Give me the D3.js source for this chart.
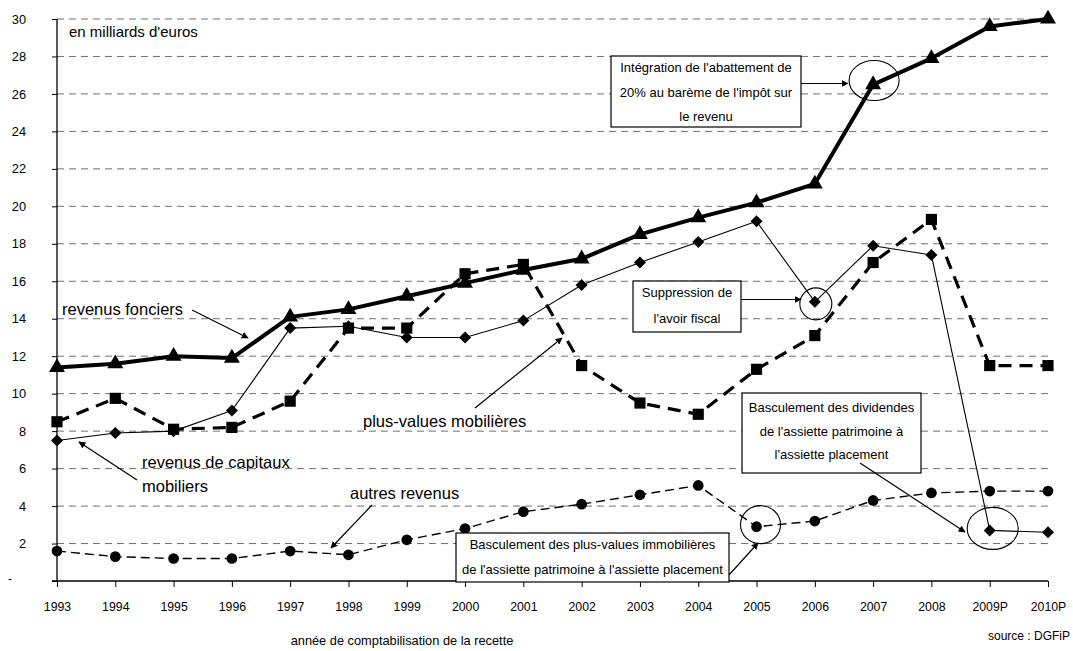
<!DOCTYPE html>
<html>
<head>
<meta charset="utf-8">
<script src="https://cdn.jsdelivr.net/npm/d3@7"></script>
<style>
  html, body { margin: 0; padding: 0; background: #fff; }
  svg { display: block; font-family: "Liberation Sans", Arial, sans-serif; }
</style>
</head>
<body>
<svg id="chart" width="1073" height="651"></svg>
<script>
// ---------- data ----------
const years = ["1993","1994","1995","1996","1997","1998","1999","2000","2001","2002","2003","2004","2005","2006","2007","2008","2009P","2010P"];
const revenusFonciers = [11.4, 11.6, 12.0, 11.9, 14.1, 14.5, 15.2, 15.9, 16.6, 17.2, 18.5, 19.4, 20.2, 21.2, 26.5, 27.9, 29.6, 30.0];
const plusValuesMobilieres = [8.5, 9.75, 8.1, 8.2, 9.6, 13.5, 13.5, 16.4, 16.9, 11.5, 9.5, 8.9, 11.3, 13.1, 17.0, 19.3, 11.5, 11.5];
const revenusCapitauxMobiliers = [7.5, 7.9, 8.0, 9.1, 13.5, 13.6, 13.0, 13.0, 13.9, 15.8, 17.0, 18.1, 19.2, 14.9, 17.9, 17.4, 2.7, 2.6];
const autresRevenus = [1.6, 1.3, 1.2, 1.2, 1.6, 1.4, 2.2, 2.8, 3.7, 4.1, 4.6, 5.1, 2.9, 3.2, 4.3, 4.7, 4.8, 4.8];
const yTicks = [0, 2, 4, 6, 8, 10, 12, 14, 16, 18, 20, 22, 24, 26, 28, 30];

// ---------- layout ----------
const svg = d3.select("#chart");
const x = d3.scalePoint().domain(years).range([57, 1048]);
const y = d3.scaleLinear().domain([0, 30]).range([581, 19]);
const FONT = "\"Liberation Sans\", Arial, sans-serif";
const NARROW = "\"Liberation Sans Narrow\", \"Arial Narrow\", \"Liberation Sans\", Arial, sans-serif";

// arrow marker
const defs = svg.append("defs");
defs.append("marker")
  .attr("id", "arrow").attr("viewBox", "0 0 10 10")
  .attr("refX", 9).attr("refY", 5)
  .attr("markerWidth", 7).attr("markerHeight", 7)
  .attr("markerUnits", "userSpaceOnUse")
  .attr("orient", "auto")
  .append("path").attr("d", "M0,0 L10,5 L0,10 z").attr("fill", "#000");

// gridlines
svg.append("g").selectAll("line")
  .data(yTicks.filter(d => d > 0))
  .join("line")
  .attr("x1", 57).attr("x2", 1048)
  .attr("y1", d => y(d)).attr("y2", d => y(d))
  .attr("stroke", "#707070").attr("stroke-width", 1)
  .attr("stroke-dasharray", "7,5");

// y axis
const yAxis = svg.append("g").attr("transform", "translate(57,0)")
  .call(d3.axisLeft(y).tickValues(yTicks).tickSize(5).tickFormat(d => d === 0 ? "" : d));
yAxis.select(".domain").attr("stroke", "#000").attr("stroke-width", 1.3).attr("d", `M0,${y(0)}V${y(30)}`);
yAxis.selectAll(".tick line").attr("stroke", "#000");
yAxis.selectAll(".tick text")
  .attr("x", -31).attr("font-size", 12.8).attr("font-family", FONT).attr("fill", "#000");
svg.append("text").attr("x", 8).attr("y", y(0)).attr("dy", "0.2em")
  .attr("font-size", 12).attr("font-family", FONT).text("-");

// x axis
const xAxis = svg.append("g").attr("transform", `translate(0,${y(0)})`)
  .call(d3.axisBottom(x).tickSize(6).tickPadding(15));
xAxis.select(".domain").attr("stroke", "#000").attr("stroke-width", 1.3).attr("d", `M52,0H1048`);
xAxis.selectAll(".tick line").attr("stroke", "#000");
const xt = xAxis.selectAll(".tick text").attr("font-size", 14.6).attr("font-family", NARROW).attr("fill", "#000");
// fallback if no narrow face is available
if (xt.node().getComputedTextLength() > 30) {
  xt.attr("font-size", 12.3).attr("font-family", FONT);
}

// ---------- series ----------
function series(values, opts) {
  const pts = values.map((v, i) => [x(years[i]), y(v)]);
  svg.append("path")
    .attr("d", d3.line()(pts))
    .attr("fill", "none").attr("stroke", "#000")
    .attr("stroke-width", opts.width)
    .attr("stroke-linejoin", "round")
    .attr("stroke-dasharray", opts.dash || null);
  svg.append("g").selectAll("path")
    .data(pts).join("path")
    .attr("transform", d => `translate(${d[0]},${d[1]})${opts.rotate ? " rotate(45)" : ""}`)
    .attr("d", d3.symbol().type(opts.symbol).size(opts.size))
    .attr("fill", "#000");
}
series(autresRevenus, { width: 1.4, dash: "9,5", symbol: d3.symbolCircle, size: 90 });
series(revenusCapitauxMobiliers, { width: 1.1, symbol: d3.symbolSquare, size: 72, rotate: true });
series(plusValuesMobilieres, { width: 3.2, dash: "13,8", symbol: d3.symbolSquare, size: 125 });
series(revenusFonciers, { width: 4, symbol: d3.symbolTriangle, size: 110 });

// ---------- annotations ----------
function text(t, xx, yy, size, anchor) {
  svg.append("text").attr("x", xx).attr("y", yy)
    .attr("font-size", size).attr("font-family", FONT)
    .attr("text-anchor", anchor || "start").attr("fill", "#000").text(t);
}
function arrow(x1, y1, x2, y2) {
  svg.append("line").attr("x1", x1).attr("y1", y1).attr("x2", x2).attr("y2", y2)
    .attr("stroke", "#000").attr("stroke-width", 1.2).attr("marker-end", "url(#arrow)");
}
function box(bx, by, bw, bh, lines, baselines, size) {
  svg.append("rect").attr("x", bx).attr("y", by).attr("width", bw).attr("height", bh)
    .attr("fill", "#fff").attr("stroke", "#000").attr("stroke-width", 1.2);
  lines.forEach((l, i) => text(l, bx + bw / 2, baselines[i], size, "middle"));
}
function ring(cx, cy, rx, ry) {
  svg.append("ellipse").attr("cx", cx).attr("cy", cy).attr("rx", rx).attr("ry", ry)
    .attr("fill", "none").attr("stroke", "#000").attr("stroke-width", 1.1);
}

text("en milliards d'euros", 69, 37, 15);
text("revenus fonciers", 62, 315, 16.5);
arrow(192, 310, 248, 338);
text("plus-values mobilières", 363, 427, 16.5);
arrow(475, 408, 562, 338);
text("revenus de capitaux", 142, 468, 16.5);
text("mobiliers", 142, 492, 16.5);
arrow(137, 480, 79, 442);
text("autres revenus", 350, 499, 16.5);
arrow(372, 505, 331, 548);

// ellipses around highlighted points
ring(x("2007") + 1, y(26.5) - 4, 25, 20);
ring(x("2006") + 1, y(14.9) + 2, 16, 16);
ring(x("2005") + 4, y(2.9) - 2, 20, 19);
ring(x("2009P") + 3, y(2.7) - 2, 25.5, 21);

box(611, 56, 190, 71, ["Intégration de l'abattement de", "20% au barème de l'impôt sur", "le revenu"], [72, 96.5, 120.5], 13);
arrow(801, 83.5, 848, 83.5);
box(633, 281, 108, 51, ["Suppression de", "l'avoir fiscal"], [297, 322.5], 13);
arrow(741, 299.5, 801, 299.5);
box(456, 533, 273, 49, ["Basculement des plus-values immobilières", "de l'assiette patrimoine à l'assiette placement"], [549, 573.5], 13);
arrow(729, 575, 758, 543);
box(742, 393, 179, 80, ["Basculement des dividendes", "de l'assiette patrimoine à", "l'assiette placement"], [411.5, 436, 459], 13);
arrow(860, 463, 965, 532);

text("année de comptabilisation de la recette", 402, 645, 12.8, "middle");
text("source : DGFiP", 1070, 640, 12, "end");
</script>
</body>
</html>
